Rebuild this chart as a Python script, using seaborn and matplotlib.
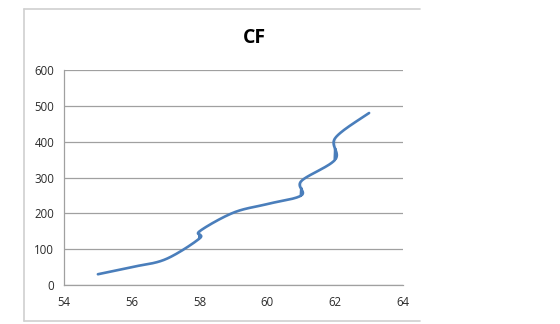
import numpy as np
import pandas as pd
import matplotlib
matplotlib.use("Agg")
import matplotlib.pyplot as plt
import seaborn as sns

# values (cumulative frequency)
marks = [55, 56, 57, 58, 58, 59, 60, 61, 61, 62, 62, 63]
cf = [30, 50, 72, 130, 150, 202, 226, 250, 290, 350, 410, 480]
x_ticks = [54, 56, 58, 60, 62, 64]
y_ticks = [0, 100, 200, 300, 400, 500, 600]


def smooth(xs, ys, n=40):
    # Excel-like smoothed line: cubic Bezier through each point,
    # control points from neighbouring points (Catmull-Rom, 1/6)
    p = np.column_stack([xs, ys]).astype(float)
    # scale y so the tangents behave like in screen space
    sx = 339 / 10.0
    sy = 215 / 600.0
    p = p * [sx, sy]
    out = []
    for i in range(len(p) - 1):
        p0 = p[i - 1] if i > 0 else p[i]
        p1, p2 = p[i], p[i + 1]
        p3 = p[i + 2] if i + 2 < len(p) else p[i + 1]
        c1 = p1 + (p2 - p0) / 6
        c2 = p2 - (p3 - p1) / 6
        t = np.linspace(0, 1, n)[:, None]
        seg = ((1 - t) ** 3) * p1 + 3 * ((1 - t) ** 2) * t * c1 + 3 * (1 - t) * t ** 2 * c2 + t ** 3 * p2
        out.append(seg if i == 0 else seg[1:])
    out = np.vstack(out) / [sx, sy]
    return out[:, 0], out[:, 1]


sns.set_style("white")
plt.rcParams["font.family"] = ["Open Sans", "DejaVu Sans"]

fig = plt.figure(figsize=(5.6, 3.24), dpi=100)
ax = fig.add_axes([64 / 560, 1 - 285 / 324, 339 / 560, 215 / 324])

cx, cy = smooth(marks, cf)
curve = pd.DataFrame({"x": cx, "y": cy})
sns.lineplot(data=curve, x="x", y="y", sort=False, color="#4a7ebb", linewidth=1.9, ax=ax)

ax.set_xlim(54, 64)
ax.set_ylim(0, 600)
ax.set_xticks(x_ticks)
ax.set_yticks(y_ticks)
ax.set_xlabel("")
ax.set_ylabel("")
ax.yaxis.grid(True, color="#a0a0a0", linewidth=0.9)
ax.set_axisbelow(True)
for s in ["top", "right"]:
    ax.spines[s].set_visible(False)
for s in ["left", "bottom"]:
    ax.spines[s].set_color("#a0a0a0")
    ax.spines[s].set_linewidth(0.9)
ax.tick_params(axis="both", direction="out", length=4, width=0.9, color="#a0a0a0",
               labelsize=8.3, labelcolor="#2b2b2b", pad=3)
ax.tick_params(axis="x", pad=4)

fig.text(254 / 560, 1 - 38 / 324, "CF", ha="center", va="center",
         fontsize=14, fontweight="bold", color="black")

# chart area border (left, top and bottom edges visible)
border = dict(color="#d0d0d0", linewidth=1.2, transform=fig.transFigure)
fig.add_artist(plt.Line2D([24 / 560, 24 / 560], [1 - 9 / 324, 1 - 321 / 324], **border))
fig.add_artist(plt.Line2D([24 / 560, 420 / 560], [1 - 9 / 324, 1 - 9 / 324], **border))
fig.add_artist(plt.Line2D([24 / 560, 420 / 560], [1 - 321 / 324, 1 - 321 / 324], **border))

fig.savefig("out.png", dpi=100)
